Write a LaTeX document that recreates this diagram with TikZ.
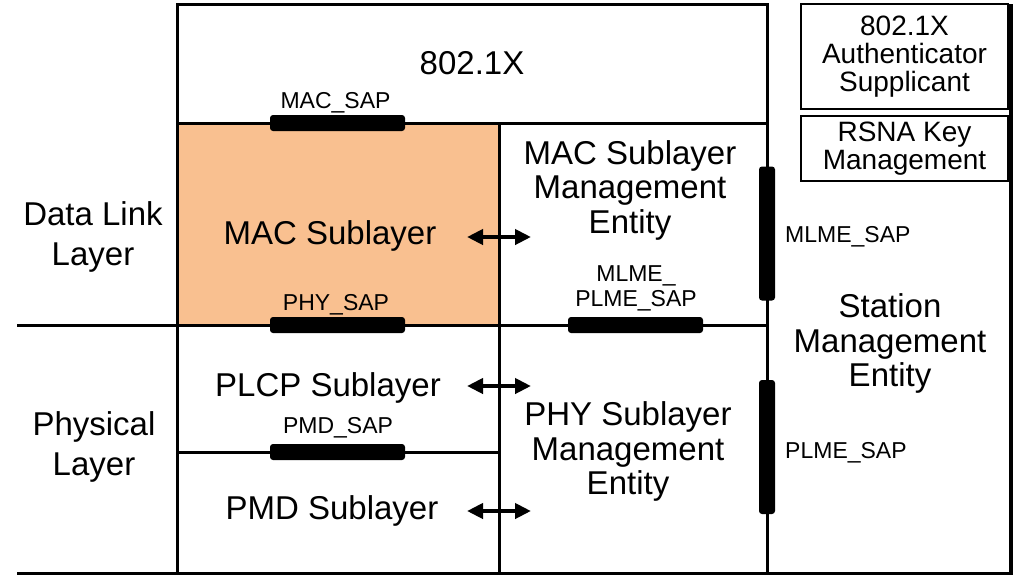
\documentclass[tikz,border=0pt]{standalone}
\usepackage{fontspec}
\setmainfont{Liberation Sans}
\usepackage{tikz}
\usetikzlibrary{arrows.meta}
\definecolor{macorange}{RGB}{249,192,144}

\begin{document}
\begin{tikzpicture}[x=1pt, y=-1pt,
	layerbox/.style={rectangle, draw, line width=3pt, inner sep=0pt, outer sep=0pt},
	sidebox/.style={rectangle, draw, line width=2.5pt, inner sep=0pt, minimum width=207pt, align=center, font=\fontsize{28}{28}\selectfont},
	sapbar/.style={rectangle, fill=black, rounded corners=3pt, inner sep=0pt},
	bigtext/.style={inner sep=0pt, align=center, font=\fontsize{33}{34.5}\selectfont},
	sidetext/.style={inner sep=0pt, align=center, font=\fontsize{33}{40}\selectfont},
	saptext/.style={inner sep=0pt, align=center, font=\fontsize{23}{25}\selectfont},
	dbl/.style={{Triangle[length=16pt, width=15pt]}-{Triangle[length=16pt, width=15pt]}, line width=4.5pt}]
	\useasboundingbox (0,0) rectangle (1019,574);

	% layer boxes
	\node[layerbox, minimum width=590pt, minimum height=119pt, font=\fontsize{33}{34}\selectfont](dotxBox) at (472,63.5){802.1X};
	\node[layerbox, fill=macorange, minimum width=322pt, minimum height=202pt](macBox)  at (338,224){};
	\node[layerbox,                 minimum width=268pt, minimum height=202pt](mlmeBox) at (633,224){};
	\node[layerbox,                 minimum width=322pt, minimum height=127pt](plcpBox) at (338,388.5){};
	\node[layerbox,                 minimum width=322pt, minimum height=121pt](pmdBox)  at (338,512.5){};
	\node[layerbox,                 minimum width=268pt, minimum height=248pt](plmeBox) at (633,449){};

	\draw[line width=3pt] (17,325) -- (macBox.south west);
	\draw[line width=3pt] (17,573) -- (1013,573);
	\draw[line width=4pt] (1011,4) -- (1011,573);

	% side boxes
	\node[sidebox, minimum height=105pt](authBox) at (904.5,56.5){802.1X\\Authenticator\\Supplicant};
	\node[sidebox, minimum height=65pt](rsnaBox)  at (904.5,148.5){RSNA Key\\Management};

	% service access points
	\node[sapbar, minimum width=135pt, minimum height=16pt](macSap)    at (337.5,123){};
	\node[sapbar, minimum width=135pt, minimum height=16pt](phySap)    at (337.5,325){};
	\node[sapbar, minimum width=135pt, minimum height=16pt](pmdSap)    at (337.5,452){};
	\node[sapbar, minimum width=135pt, minimum height=16pt](mlplSap)   at (635.5,325){};
	\node[sapbar, minimum width=16pt, minimum height=134pt](mlmeSap)   at (767,233.5){};
	\node[sapbar, minimum width=16pt, minimum height=134pt](plmeSap)   at (767,447){};

	\node[saptext, anchor=base](macSapText)  at (335.5,108){MAC\_SAP};
	\node[saptext, anchor=base](phySapText)  at (336,310){PHY\_SAP};
	\node[saptext, anchor=base](pmdSapText)  at (338,433){PMD\_SAP};
	\node[saptext](mlplSapText) at (636,288.5){MLME\_\\PLME\_SAP};
	\node[saptext, anchor=base west](mlmeSapText) at (785,242){MLME\_SAP};
	\node[saptext, anchor=base west](plmeSapText) at (785,458){PLME\_SAP};

	% layer names
	\node[sidetext](dataLink) at (93,237){Data Link\\Layer};
	\node[sidetext](physical) at (94,447){Physical\\Layer};

	\node[bigtext](macText)     at (330,236){MAC Sublayer};
	\node[bigtext](plcpText)    at (328,388){PLCP Sublayer};
	\node[bigtext](pmdText)     at (332,511){PMD Sublayer};
	\node[bigtext](mlmeText)    at (630,190){MAC Sublayer\\Management\\Entity};
	\node[bigtext](plmeText)    at (628,451.5){PHY Sublayer\\Management\\Entity};
	\node[bigtext](stationText) at (890,343.5){Station\\Management\\Entity};

	% arrows to the management entities
	\coordinate (macL)  at (467,237);  \coordinate (macR)  at (531,237);
	\coordinate (plcpL) at (467,386);  \coordinate (plcpR) at (531,386);
	\coordinate (pmdL)  at (467,511);  \coordinate (pmdR)  at (531,511);
	\draw[dbl] (macL)  -- (macR);
	\draw[dbl] (plcpL) -- (plcpR);
	\draw[dbl] (pmdL)  -- (pmdR);
\end{tikzpicture}
\end{document}
